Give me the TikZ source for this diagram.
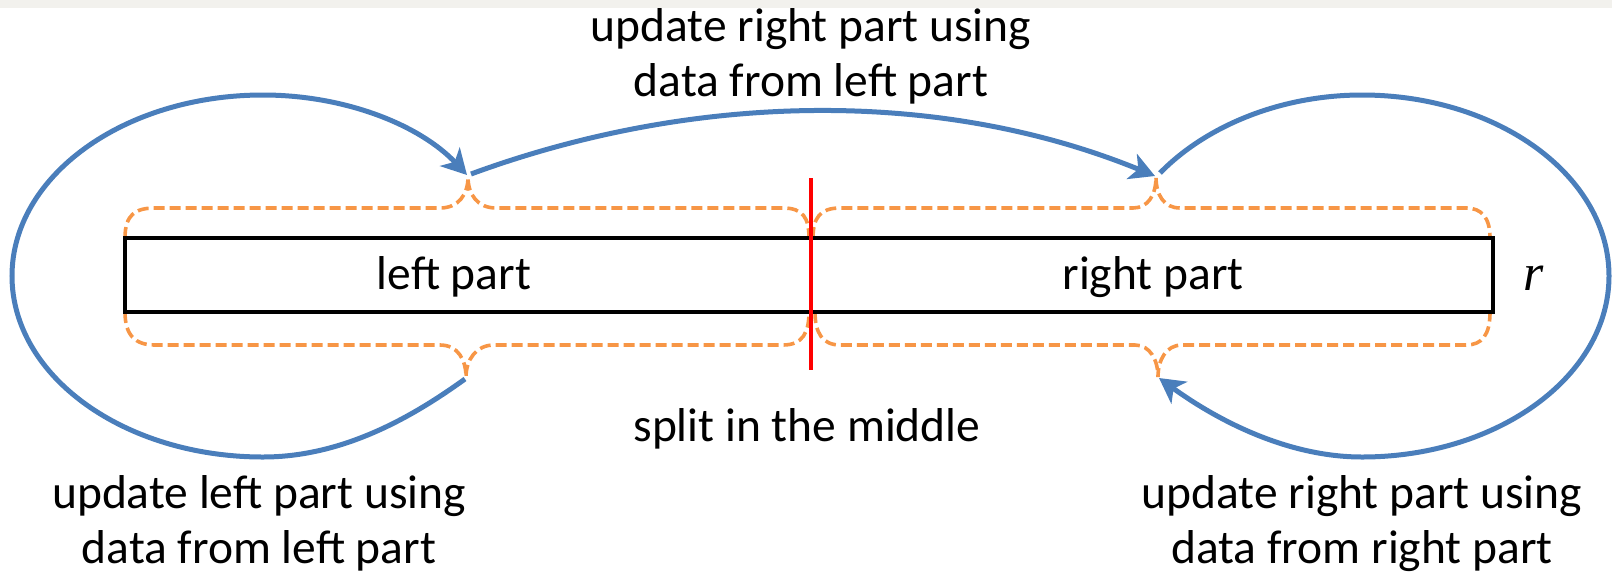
\documentclass[tikz,border=0pt]{standalone}
\usepackage{fontspec}
\setmainfont{Carlito}
\newfontfamily\rfont{Liberation Serif}
\usetikzlibrary{arrows.meta}
\definecolor{loopblue}{RGB}{74,126,187}
\definecolor{braceorange}{RGB}{247,150,70}
\definecolor{stripgray}{RGB}{242,241,237}
\begin{document}
\begin{tikzpicture}[x=1pt,y=-1pt,
  lbl/.style={font=\fontsize{47.5}{55}\selectfont, inner sep=0pt, align=center},
  brace/.style={draw=braceorange, line width=3.6pt, dash pattern=on 11pt off 5pt},
  flow/.style={draw=loopblue, line width=5pt, -{Stealth[length=25pt,width=27pt,inset=7pt]}},
  barbox/.style={draw=black, line width=4.5pt, minimum width=1368pt, minimum height=74pt, inner sep=0pt},
  splitline/.style={draw=red, line width=4pt}]
\useasboundingbox (0,0) rectangle (1612,574);
\fill[stripgray] (0,0) rectangle (1612,8);

% braces
\draw[brace] (125,238) .. controls (125,215) and (135,208) .. (155,208) -- (440,208)
  .. controls (458,208) and (468,195) .. (468,177)
  .. controls (468,195) and (478,208) .. (496,208) -- (783,208)
  .. controls (803,208) and (809,218) .. (809,238);
\draw[brace] (125,312) .. controls (125,335) and (135,345) .. (155,345) -- (440,345)
  .. controls (458,345) and (466,360) .. (466,377)
  .. controls (466,360) and (476,345) .. (494,345) -- (783,345)
  .. controls (803,345) and (809,332) .. (809,312);
\draw[brace] (813,238) .. controls (813,218) and (820,208) .. (840,208) -- (1133,208)
  .. controls (1148,208) and (1156,195) .. (1156,177)
  .. controls (1156,195) and (1164,208) .. (1180,208) -- (1466,208)
  .. controls (1482,208) and (1490,218) .. (1490,238);
\draw[brace] (815,312) .. controls (815,332) and (822,345) .. (840,345) -- (1135,345)
  .. controls (1150,345) and (1158,360) .. (1158,377)
  .. controls (1158,360) and (1166,345) .. (1182,345) -- (1466,345)
  .. controls (1482,345) and (1490,335) .. (1490,312);

% bar
\node[barbox] (bar) at (809,275) {};
\node[lbl, anchor=base] (leftpart) at (454,289) {left part};
\node[lbl, anchor=base] (rightpart) at (1153,289) {right part};
\node[inner sep=0pt, anchor=base, font=\fontsize{52}{60}\selectfont\rfont\itshape] (rlabel) at (1534,290) {r};

% split
\coordinate (splitT) at (811,178);
\coordinate (splitB) at (811,370);
\draw[splitline] (splitT) -- (splitB);

% arrow end points (brace tips)
\coordinate (lts) at (471,174);
\coordinate (lte) at (467,175);
\coordinate (lbs) at (465,379);
\coordinate (rte) at (1155,176);
\coordinate (rts) at (1160,173);
\coordinate (rbe) at (1159,378);

\draw[flow] (lbs) .. controls (415,415) and (345,457) .. (263,457)
  .. controls (124,457) and (12,376) .. (12,276)
  .. controls (12,176) and (124,95) .. (263,95)
  .. controls (345,95) and (420,125) .. (lte);
\draw[flow] (lts) .. controls (700,90) and (945,90) .. (rte);
\draw[flow] (rts) .. controls (1207,125) and (1282,95) .. (1362,95)
  .. controls (1498,95) and (1609,176) .. (1609,276)
  .. controls (1609,376) and (1498,457) .. (1362,457)
  .. controls (1282,457) and (1210,415) .. (rbe);

% labels (base anchor = baseline of last line)
\node[lbl, anchor=base] (toplbl) at (811,96) {update right part using\\data from left part};
\node[lbl, anchor=base] (splitlbl) at (807,441) {split in the middle};
\node[lbl, anchor=base] (leftlbl) at (259,563) {update left part using\\data from left part};
\node[lbl, anchor=base] (rightlbl) at (1362,563) {update right part using\\data from right part};
\end{tikzpicture}
\end{document}
